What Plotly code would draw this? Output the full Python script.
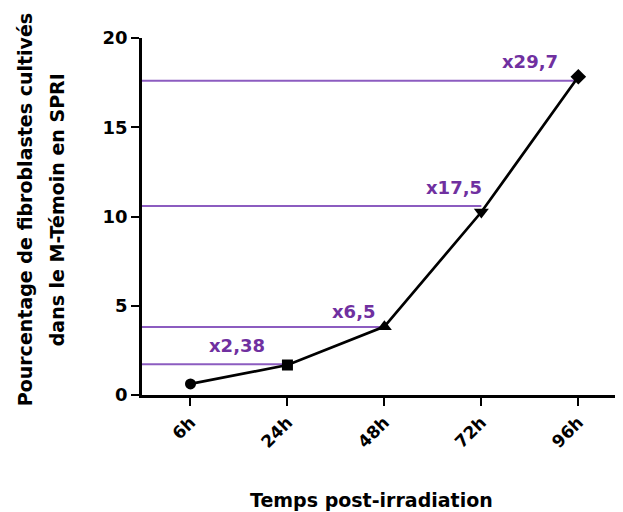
import plotly.graph_objects as go

# Data
categories = ["6h", "24h", "48h", "72h", "96h"]
values = [0.62, 1.68, 3.83, 10.25, 17.83]
marker_symbols = ["circle", "square", "triangle-up", "triangle-down", "diamond"]

# Fold-change reference levels (horizontal purple lines) and their labels
ref_index = [1, 2, 3, 4]
ref_levels = [1.72, 3.81, 10.59, 17.6]
ref_labels = ["x2,38", "x6,5", "x17,5", "x29,7"]
label_xshift = [-50, -30, -27, -48]
label_yshift = [6, 3, 6, 7]

y_title_lines = ["Pourcentage de fibroblastes cultivés", "dans le M-Témoin en SPRI"]
x_title = "Temps post-irradiation"

x_idx = list(range(len(categories)))
X_MIN, X_MAX = -0.5, 4.43

PURPLE_LINE = "#8c5cc0"
PURPLE_TEXT = "#7030a0"
FONT = "DejaVu Sans"

fig = go.Figure()

for i, lvl in zip(ref_index, ref_levels):
    fig.add_trace(go.Scatter(
        x=[X_MIN, x_idx[i]], y=[lvl, lvl], mode="lines",
        line=dict(color=PURPLE_LINE, width=2), showlegend=False, hoverinfo="skip",
    ))

fig.add_trace(go.Scatter(
    x=x_idx, y=values, mode="lines+markers",
    line=dict(color="black", width=2.7),
    marker=dict(symbol=marker_symbols, size=[11, 11, 13, 13, 12], color="black",
                opacity=1, line=dict(width=0)),
    showlegend=False,
))

for i, lvl, txt, xs, ys in zip(ref_index, ref_levels, ref_labels, label_xshift, label_yshift):
    fig.add_annotation(
        x=x_idx[i], y=lvl, text=f"<b>{txt}</b>", showarrow=False,
        xanchor="center", yanchor="bottom", xshift=xs, yshift=ys,
        font=dict(family=FONT, size=18, color=PURPLE_TEXT),
    )

# y-axis title (two lines) and x-axis title as paper annotations
for line, xp in zip(y_title_lines, [-0.245, -0.178]):
    fig.add_annotation(
        xref="paper", yref="paper", x=xp, y=0.52, text=f"<b>{line}</b>",
        textangle=-90, showarrow=False, xanchor="center", yanchor="middle",
        font=dict(family=FONT, size=19, color="black"),
    )
fig.add_annotation(
    xref="paper", yref="paper", x=0.48, y=-0.294, text=f"<b>{x_title}</b>",
    showarrow=False, xanchor="center", yanchor="middle",
    font=dict(family=FONT, size=19, color="black"),
)

fig.update_layout(
    width=615, height=504,
    margin=dict(l=134, r=3, t=30, b=117, autoexpand=False),
    plot_bgcolor="white", paper_bgcolor="white",
    font=dict(family=FONT, color="black"),
    xaxis=dict(
        range=[X_MIN, X_MAX], tickmode="array", tickvals=x_idx,
        ticktext=[f"<b>{c}</b>" for c in categories], tickangle=-45,
        showline=True, linecolor="black", linewidth=2.5,
        ticks="outside", ticklen=8, tickwidth=2, tickcolor="black",
        showgrid=False, zeroline=False, automargin=False,
        tickfont=dict(family=FONT, size=17, color="black"),
    ),
    yaxis=dict(
        range=[0, 20], tickvals=[0, 5, 10, 15, 20],
        ticktext=["<b>0</b>", "<b>5</b>", "<b>10</b>", "<b>15</b>", "<b>20</b>"],
        showline=True, linecolor="black", linewidth=2.5,
        ticks="outside", ticklen=8, tickwidth=2, tickcolor="black",
        showgrid=False, zeroline=False, automargin=False,
        tickfont=dict(family=FONT, size=18, color="black"),
    ),
)

fig.write_html("out.html")
